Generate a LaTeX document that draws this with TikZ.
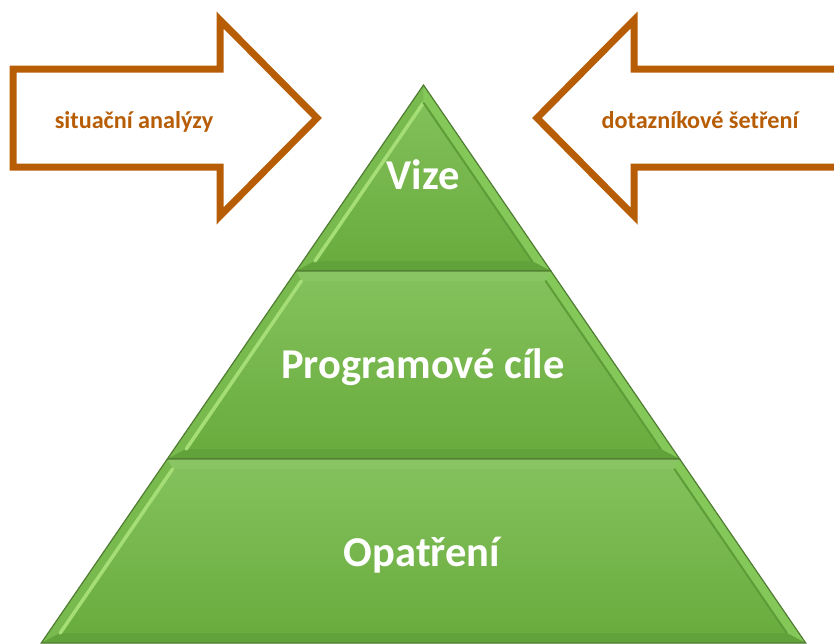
\documentclass[tikz,border=0pt]{standalone}
\usepackage{fontspec}
\setmainfont{Carlito}
\definecolor{arrowc}{RGB}{183,93,5}
\definecolor{gtop}{RGB}{133,194,94}
\definecolor{gbot}{RGB}{104,171,60}
\definecolor{gline}{RGB}{80,125,50}
\definecolor{gbevtop}{RGB}{138,197,100}
\definecolor{gbevleft}{RGB}{120,186,78}
\definecolor{ghigh}{RGB}{165,222,118}
\definecolor{gbevright}{RGB}{132,200,90}
\definecolor{gshadow}{RGB}{94,156,56}
\definecolor{gbevbot}{RGB}{98,162,58}
\newcommand{\pyrlayer}[2]{%
 \pgfmathsetmacro\pTL{423.5-0.685*(#1-85)}%
 \pgfmathsetmacro\pTR{847-\pTL}%
 \pgfmathsetmacro\pBL{423.5-0.685*(#2-85)}%
 \pgfmathsetmacro\pBR{847-\pBL}%
 \pgfmathsetmacro\iT{max(#1+10,85+17.7)}%
 \pgfmathsetmacro\iB{#2-10}%
 \pgfmathsetmacro\iTL{423.5-0.685*(\iT-85)+12.1}%
 \pgfmathsetmacro\iTR{847-\iTL}%
 \pgfmathsetmacro\iBL{423.5-0.685*(\iB-85)+12.1}%
 \pgfmathsetmacro\iBR{847-\iBL}%
 \shade[top color=gtop,bottom color=gbot] (\pTL,#1) -- (\pTR,#1) -- (\pBR,#2) -- (\pBL,#2) -- cycle;
 \fill[gbevtop] (\pTL,#1) -- (\pTR,#1) -- (\iTR,\iT) -- (\iTL,\iT) -- cycle;
 \fill[gbevleft] (\pTL,#1) -- (\iTL,\iT) -- (\iBL,\iB) -- (\pBL,#2) -- cycle;
 \fill[gbevright] (\pTR,#1) -- (\iTR,\iT) -- (\iBR,\iB) -- (\pBR,#2) -- cycle;
 \fill[gbevbot] (\pBL,#2) -- (\iBL,\iB) -- (\iBR,\iB) -- (\pBR,#2) -- cycle;
 \draw[ghigh,line width=3.5pt,line cap=round] (\iTL,\iT) -- (\iBL,\iB);
 \draw[gshadow,line width=2pt,line cap=round] (\iTR,\iT) -- (\iBR,\iB);
 \draw[gline,line width=1.2pt] (\pTL,#1) -- (\pTR,#1) -- (\pBR,#2) -- (\pBL,#2) -- cycle;
}
\begin{document}
\begin{tikzpicture}[x=1pt,y=-1pt,line join=miter,
  arrowline/.style={draw=arrowc,fill=white,line width=7pt,miter limit=10},
  vtext/.style={text=white,font=\fontsize{42.5}{42.5}\selectfont\bfseries,inner sep=0pt,anchor=base},
  atext/.style={text=arrowc,font=\fontsize{24.2}{24.2}\selectfont\bfseries,inner sep=0pt,anchor=base}]
\useasboundingbox (0,0) rectangle (834,643);
% arrows
\coordinate (la1) at (13,69);
\coordinate (la2) at (220,69);
\coordinate (la3) at (220,20);
\coordinate (la4) at (317,118);
\coordinate (la5) at (220,216);
\coordinate (la6) at (220,167);
\coordinate (la7) at (13,167);
\draw[arrowline] (la1) -- (la2) -- (la3) -- (la4) -- (la5) -- (la6) -- (la7) -- cycle;
\coordinate (ra1) at (850,69);
\coordinate (ra2) at (634,69);
\coordinate (ra3) at (634,20);
\coordinate (ra4) at (537,118);
\coordinate (ra5) at (634,216);
\coordinate (ra6) at (634,167);
\coordinate (ra7) at (850,167);
\draw[arrowline] (ra1) -- (ra2) -- (ra3) -- (ra4) -- (ra5) -- (ra6) -- (ra7) -- cycle;
\node[atext] (sit) at (134,128) {situační analýzy};
\node[atext] (dot) at (700,128) {dotazníkové šetření};
% pyramid
\pyrlayer{85}{271}
\pyrlayer{271}{459}
\pyrlayer{459}{643}
\node[vtext] (vize) at (423,189) {Vize};
\node[vtext] (cile) at (423,378) {Programové cíle};
\node[vtext] (opat) at (422,566) {Opatření};
\end{tikzpicture}
\end{document}
